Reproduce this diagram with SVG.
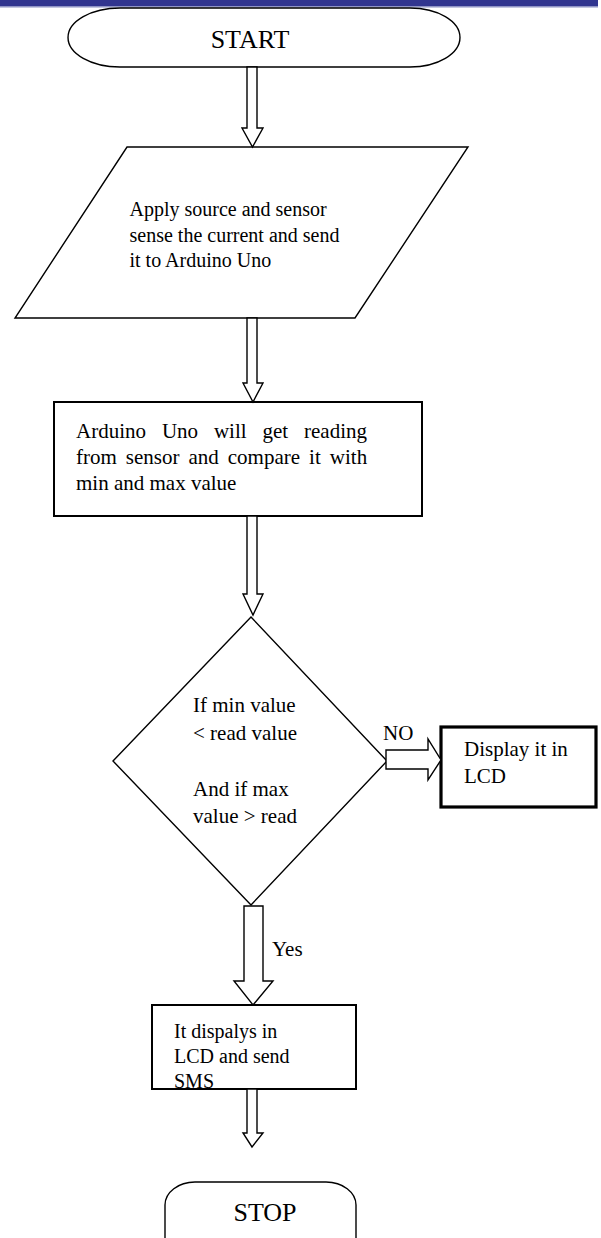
<svg xmlns="http://www.w3.org/2000/svg" width="601" height="1238" viewBox="0 0 601 1238">
<style>
.t { font-family: "Liberation Serif", "Times New Roman", serif; fill: #000; }
.f20 { font-size: 20px; }
.f21 { font-size: 21px; }
.f26 { font-size: 26px; }
.shape { fill: #fff; stroke: #000; stroke-width: 1.4; }
.box { fill: #fff; stroke: #000; stroke-width: 2; }
.thick { fill: #fff; stroke: #000; stroke-width: 3.2; }
.arrow { fill: #fff; stroke: #000; stroke-width: 1.4; stroke-linejoin: miter; }
</style>
<rect x="0" y="0" width="601" height="1238" fill="#fff"/>
<g id="header">
  <rect x="0" y="0" width="598" height="6.5" fill="#31358f"/>
  <rect x="0" y="6.5" width="598" height="1" fill="#8a8fc4"/>
</g>
<g id="start">
  <path class="shape" d="M120,8 L410,8 A50,29.5 0 0 1 410,67 L120,67 A52,29.5 0 0 1 120,8 Z"/>
  <text class="t f26" x="250" y="48" text-anchor="middle">START</text>
</g>
<g id="input">
  <polygon class="shape" points="127,147 468,147 355,318 15,318"/>
  <text class="t f20" x="129.5" y="216">Apply source and sensor</text>
  <text class="t f20" x="129.5" y="241.7">sense the current and send</text>
  <text class="t f20" x="129.5" y="267">it to Arduino Uno</text>
</g>
<g id="process">
  <rect class="box" x="54" y="402" width="368" height="114"/>
  <text class="t f21" y="438"><tspan x="76">Arduino</tspan><tspan x="161.9">Uno</tspan><tspan x="213.9">will</tspan><tspan x="262.4">get</tspan><tspan x="304">reading</tspan></text>
  <text class="t f21" y="464"><tspan x="76">from</tspan><tspan x="125.8">sensor</tspan><tspan x="188.5">and</tspan><tspan x="227.8">compare</tspan><tspan x="309.1">it</tspan><tspan x="329.8">with</tspan></text>
  <text class="t f21" x="76" y="490">min and max value</text>
</g>
<g id="decision">
  <polygon class="shape" points="251,617 387,761 251,905 113,761"/>
  <text class="t f21" x="193" y="712">If min value</text>
  <text class="t f21" x="193" y="740">&lt; read value</text>
  <text class="t f21" x="193" y="796">And if max</text>
  <text class="t f21" x="193" y="823">value &gt; read</text>
</g>
<g id="display">
  <rect class="thick" x="441" y="727" width="155" height="80"/>
  <text class="t f21" x="464" y="756">Display it in</text>
  <text class="t f21" x="464" y="783">LCD</text>
</g>
<g id="sms">
  <rect class="box" x="152" y="1005" width="204" height="84"/>
  <text class="t f20" x="174" y="1038">It dispalys in</text>
  <text class="t f20" x="174" y="1063">LCD and send</text>
  <text class="t f20" x="174" y="1088">SMS</text>
</g>
<g id="stop">
  <rect class="shape" x="165" y="1182" width="191" height="100" rx="30" ry="23"/>
  <text class="t f26" x="265" y="1221" text-anchor="middle">STOP</text>
</g>
<g id="connectors">
  <polygon class="arrow" points="247,67 257,67 257,128 263,128 252.5,147 242,128 247,128"/>
  <polygon class="arrow" points="247,318 257,318 257,383 263,383 253,402 243,383 247,383"/>
  <polygon class="arrow" points="247,516 257,516 257,594 263,594 253,615 243,594 247,594"/>
  <polygon class="arrow" points="244,906 263,906 263,981 273,981 253,1005 234,981 244,981"/>
  <polygon class="arrow" points="247,1089 257,1089 257,1133 263,1133 252,1147 243,1133 247,1133"/>
  <polygon class="arrow" points="386,750 428,750 428,739 441,760 428,780 428,769 386,769"/>
  <text class="t f21" x="383" y="740">NO</text>
  <text class="t f21" x="272" y="956">Yes</text>
</g>
</svg>
